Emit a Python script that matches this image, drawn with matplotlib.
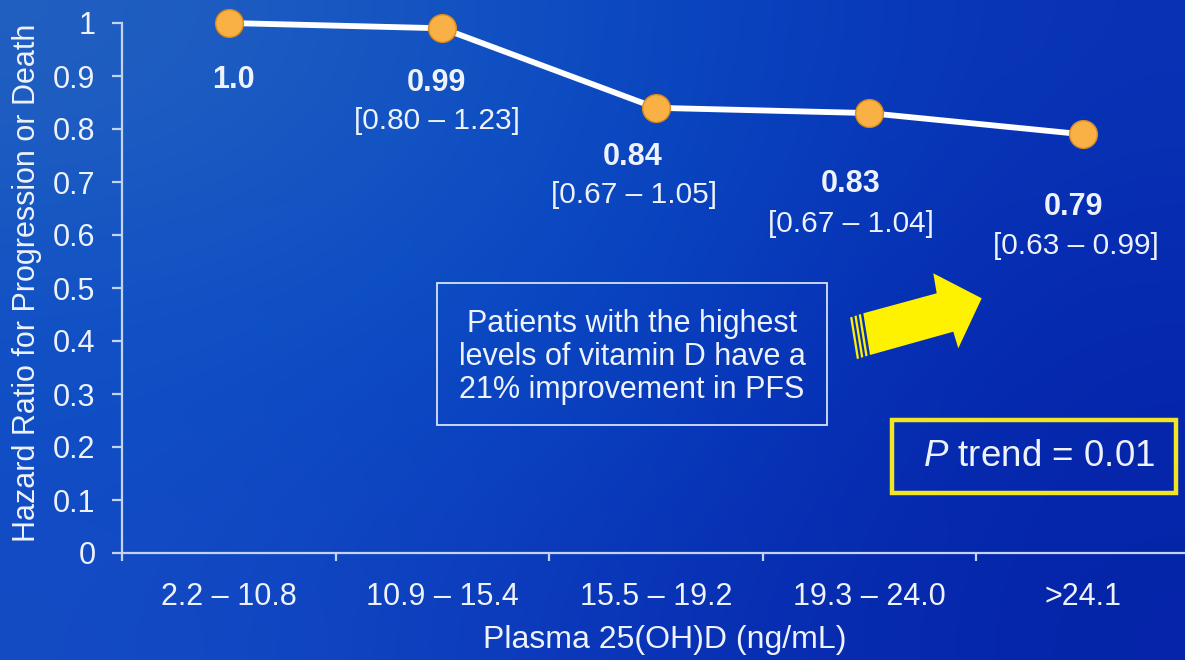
import numpy as np
import matplotlib
matplotlib.use("Agg")
import matplotlib.pyplot as plt
import matplotlib.transforms as mtransforms
from matplotlib.patches import Polygon, Rectangle

plt.rcParams['font.family'] = ['Liberation Sans', 'DejaVu Sans']
plt.rcParams['mathtext.fontset'] = 'custom'
plt.rcParams['mathtext.rm'] = 'Liberation Sans'
plt.rcParams['mathtext.it'] = 'Liberation Sans:italic'

# quintiles of plasma vitamin D and hazard ratios
categories = ['2.2 – 10.8', '10.9 – 15.4', '15.5 – 19.2', '19.3 – 24.0', '>24.1']
hazard_ratio = [1.0, 0.99, 0.84, 0.83, 0.79]
hr_labels = ['1.0', '0.99', '0.84', '0.83', '0.79']
ci_low = [None, 0.80, 0.67, 0.67, 0.63]
ci_high = [None, 1.23, 1.05, 1.04, 0.99]
yticks = [0, 0.1, 0.2, 0.3, 0.4, 0.5, 0.6, 0.7, 0.8, 0.9, 1]

W, H = 1185, 660
TXT = '#eef2fa'
AXC = '#c4d4f0'

fig = plt.figure(figsize=(W / 100, H / 100), dpi=100)

# blue slide background
bg = fig.add_axes([0, 0, 1, 1], zorder=-10)
grad = np.array([
    [(34, 96, 192), (10, 76, 196), (8, 50, 180)],
    [(14, 80, 198), (8, 72, 196), (5, 38, 174)],
    [(20, 76, 196), (10, 54, 186), (5, 36, 168)],
]) / 255.0
bg.imshow(grad, aspect='auto', interpolation='bicubic', extent=[0, 1, 0, 1])
bg.set_xlim(0, 1)
bg.set_ylim(0, 1)
bg.axis('off')

ax = fig.add_axes([122 / W, 107 / H, 1067.5 / W, 530 / H])
ax.patch.set_visible(False)

x = np.arange(len(categories))
ax.plot(x, hazard_ratio, color='white', lw=4.2, zorder=3, solid_capstyle='round',
        clip_on=False)
ax.plot(x, hazard_ratio, 'o', ms=20, color='#f9b044', mec='#d88a1c', mew=1, zorder=4,
        clip_on=False)

ax.set_xlim(-0.5, 4.5)
ax.set_ylim(0, 1)
ax.set_yticks(yticks)
ax.set_yticklabels([f'{v:g}' for v in yticks])
ax.set_xticks(x)
ax.set_xticklabels(categories)
ax.set_xticks(np.arange(-0.5, 4.0, 1.0), minor=True)

for s in ['top', 'right']:
    ax.spines[s].set_visible(False)
for s in ['left', 'bottom']:
    ax.spines[s].set_color(AXC)
    ax.spines[s].set_linewidth(1.6)

ax.tick_params(axis='y', colors=AXC, labelcolor=TXT, labelsize=22, length=7, width=1.6, pad=12)
ax.tick_params(axis='x', which='major', length=0, labelcolor=TXT, labelsize=22, pad=21)
ax.tick_params(axis='x', which='minor', colors=AXC, length=6, width=1.6)

fig.text(665 / W, 1 - 640 / H, 'Plasma 25(OH)D (ng/mL)', color=TXT, fontsize=23,
         ha='center', va='center')
fig.text(27 / W, 1 - 283 / H, 'Hazard Ratio for Progression or Death', color=TXT,
         fontsize=22, rotation=90, ha='center', va='center')

# value labels under each point (pixel offsets)
hr_offsets = [(5, -57), (-6, -55), (-23, -49), (-19, -71), (-9, -73)]
ci_offsets = [None, (-5, -93), (-22, -87), (-18, -111), (-7, -112)]
for i, (v, lab) in enumerate(zip(hazard_ratio, hr_labels)):
    dx, dy = hr_offsets[i]
    ax.annotate(lab, (x[i], v), xytext=(dx * 0.72, dy * 0.72), textcoords='offset points',
                ha='center', va='center', color=TXT, fontsize=22, fontweight='bold')
    if ci_low[i] is not None:
        dx, dy = ci_offsets[i]
        ax.annotate(f'[{ci_low[i]:.2f} – {ci_high[i]:.2f}]', (x[i], v),
                    xytext=(dx * 0.72, dy * 0.72), textcoords='offset points',
                    ha='center', va='center', color=TXT, fontsize=21.5)

# pixel coordinates, origin top-left
px = mtransforms.Affine2D().scale(1 / W, -1 / H).translate(0, 1) + fig.transFigure

fig.patches.append(Rectangle((437, 283), 390, 142, transform=px, fill=False,
                             ec='#d8e2f4', lw=1.3))
fig.text(632 / W, 1 - 357 / H,
         'Patients with the highest\nlevels of vitamin D have a\n21% improvement in PFS',
         color=TXT, fontsize=22, ha='center', va='center', linespacing=1.15)

fig.patches.append(Rectangle((892, 420), 284, 73, transform=px, fill=False,
                             ec='#f2e523', lw=3.2))
fig.text(1039 / W, 1 - 457 / H, r'$\it{P}$ trend = 0.01', color=TXT, fontsize=26.5,
         ha='center', va='center')

# yellow arrow with striped tail
yel = '#fff200'
arrow = [(863.3, 313.3), (936.7, 293.3), (933.3, 273.3), (981.7, 298.3),
         (958.3, 348.3), (953.3, 331.7), (870, 355)]
fig.patches.append(Polygon(arrow, closed=True, transform=px, fc=yel, ec='none'))
t1 = np.array([863.3, 313.3])
t2 = np.array([870, 355])
u = np.array([0.955, -0.297])
for d0, d1 in [(2.5, 4.8), (7.0, 9.3), (11.5, 13.8)]:
    quad = [t1 - u * d0, t1 - u * d1, t2 - u * d1, t2 - u * d0]
    fig.patches.append(Polygon(quad, closed=True, transform=px, fc=yel, ec='none'))

fig.savefig('out.png', dpi=100)
